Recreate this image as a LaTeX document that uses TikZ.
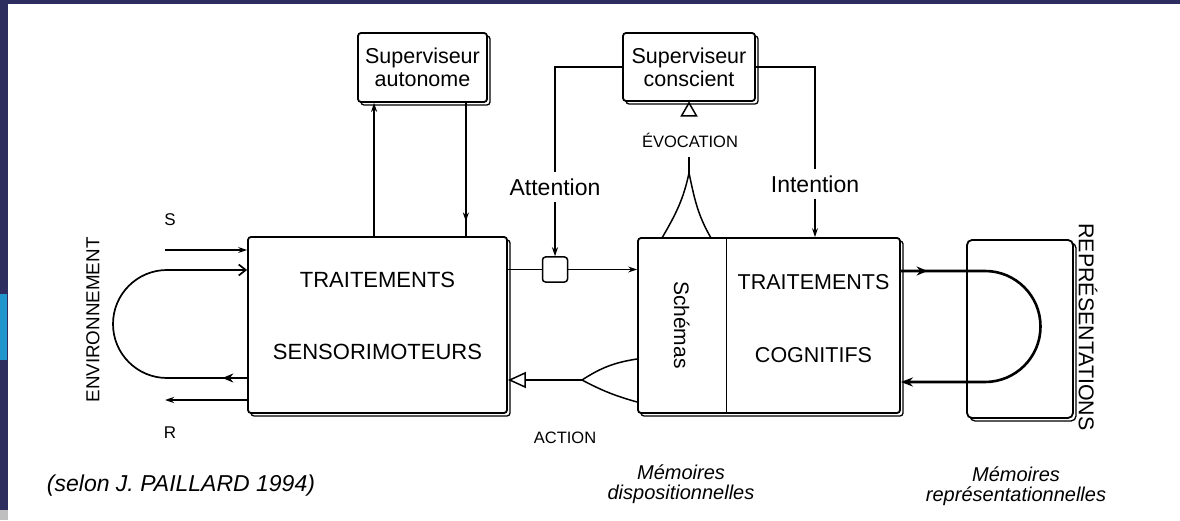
\documentclass[tikz,border=0pt]{standalone}
\usepackage{fontspec}
\setmainfont{Liberation Sans}
\usetikzlibrary{arrows.meta, positioning, shadows, decorations.markings}
\definecolor{slidenavy}{RGB}{45,45,95}
\definecolor{slidecyan}{RGB}{32,150,205}

\begin{document}
\begin{tikzpicture}[
    x=1pt, y=1pt,
    >={Stealth[length=9pt, width=6pt]},
    font=\fontsize{22}{25}\selectfont,
    box/.style     = {rectangle, draw, line width=1.8pt, rounded corners=3pt, fill=white,
                      general shadow={shadow xshift=3pt, shadow yshift=-3pt, draw, line width=1.3pt, fill=white}},
    sup/.style     = {box, align=center, font=\fontsize{21.5}{23}\selectfont},
    gatebox/.style = {rectangle, draw, line width=1.5pt, rounded corners=3pt, minimum size=25pt, inner sep=0pt},
    wire/.style    = {line width=1.5pt},
    arr/.style     = {wire, ->},
    lbl/.style     = {font=\fontsize{23}{26}\selectfont, inner sep=6pt},
    caps/.style    = {font=\fontsize{16.5}{19}\selectfont, inner sep=2pt},
    mem/.style     = {font=\fontsize{20}{20}\selectfont\itshape, align=center},
    envloop/.style = {line width=1.7pt, -{Straight Barb[length=7pt, width=11pt]}},
    reploop/.style = {line width=2.6pt, -{Stealth[length=12pt, width=9pt]}},
    midarrow/.style = {postaction={decorate, decoration={markings,
                       mark=at position #1 with {\arrow{Stealth[length=9pt, width=6pt]}}}}},
    loopmark/.style = {postaction={decorate, decoration={markings,
                       mark=at position #1 with {\arrow{Stealth[length=11pt, width=9pt]}}}}},
]

% ---------------- slide frame ----------------
\useasboundingbox (0,0) rectangle (1180,520);
\fill[white] (0,0) rectangle (1180,520);
\fill[slidenavy] (0,516) rectangle (1180,520);
\fill[slidenavy] (0,0) rectangle (8,520);
\fill[slidecyan] (0,160) rectangle (7,226);
\fill[black!25] (0,0) rectangle (8,10);

% ---------------- supervisors ----------------
\node[sup, minimum width=129pt, minimum height=69pt] (autonome) at (422.5,452.5) {Superviseur\\autonome};
\node[sup, minimum width=132pt, minimum height=68pt] (conscient) at (689,453) {Superviseur\\conscient};

% ---------------- processing boxes ----------------
\node[box, minimum width=259pt, minimum height=176pt] (sensori) at (377.5,195) {};
\node at ([yshift=45pt]sensori.center) {TRAITEMENTS};
\node at ([yshift=-27pt]sensori.center) {SENSORIMOTEURS};

\node[box, minimum width=262pt, minimum height=175pt] (disp) at (769,194.5) {};
\node[anchor=north west, minimum width=89pt, minimum height=175pt, inner sep=0pt] (schemas) at (disp.north west) {};
\draw[line width=1.6pt] (schemas.north east) -- (schemas.south east);
\node[rotate=-90, font=\fontsize{21}{24}\selectfont] at (schemas.center) {Schémas};
\node[font=\fontsize{21.5}{24}\selectfont] at ([xshift=44.5pt, yshift=43.5pt]disp.center) {TRAITEMENTS};
\node[font=\fontsize{21.5}{24}\selectfont] at ([xshift=44.5pt, yshift=-29.5pt]disp.center) {COGNITIFS};

\node[box, rounded corners=5pt, minimum width=106pt, minimum height=178pt] (rep) at (1020,191) {};
\node[rotate=-90, font=\fontsize{21.4}{24}\selectfont] at (1088,193) {REPRÉSENTATIONS};

\node[gatebox] (gate) at (555,250.5) {};

% ---------------- labels ----------------
\node[lbl] (attn) at (555,333) {Attention};
\node[lbl] (intn) at (815,336) {Intention};
\node[caps] (evo) at (690,380) {ÉVOCATION};
\node[caps] (act) at (565,82) {ACTION};
\node[font=\fontsize{17}{20}\selectfont] (slbl) at (170,300) {S};
\node[font=\fontsize{17}{20}\selectfont] (rlbl) at (170,87) {R};
\node[rotate=90, font=\fontsize{18.8}{21}\selectfont] (env) at (93,200) {ENVIRONNEMENT};
\node[mem] (memdisp) at (681,36) {Mémoires\\dispositionnelles};
\node[mem] (memrep) at (1016,34) {Mémoires\\représentationnelles};
\node[font=\fontsize{23}{26}\selectfont\itshape] (src) at (181,34) {(selon J. PAILLARD 1994)};

% ---------------- autonomous loop ----------------
\coordinate (autoL) at ([xshift=17pt]autonome.south west);
\coordinate (autoR) at ([xshift=-22pt]autonome.south east);
\draw[arr] (sensori.north -| autoL) -- (autoL);
\draw[wire, midarrow=0.89] (autoR) -- (sensori.north -| autoR);

% ---------------- attention / intention ----------------
\draw[wire] (conscient.west) -| (attn.north);
\draw[arr] (attn.south) -- (gate.north);
\draw[wire] (conscient.east) -| (intn.north);
\draw[arr] (intn.south) -- (intn.south |- disp.north);
\draw[wire] (sensori.east |- gate.west) -- (gate.west);
\draw[arr] (gate.east) -- (disp.west |- gate.east);

% ---------------- evocation fork ----------------
\coordinate (evoTop) at (689,363);
\coordinate (evoFork) at (689,347);
\coordinate (evoL) at (662,282);
\coordinate (evoR) at (711,282);
% open triangle under the conscious supervisor
\draw[wire, line join=miter] ([yshift=-1pt]conscient.south) -- ++(-7.5,-13) -- ++(15,0) -- cycle;
\draw[wire] (evoTop) -- (evoFork);
\draw[wire] (evoL) to[out=60, in=-102] (evoFork) to[out=-78, in=120] (evoR);

% ---------------- action fork ----------------
\coordinate (actFork) at (582,140);
\coordinate (actUp) at (637,161);
\coordinate (actDn) at (637,118);
\draw[wire, -{Triangle[open, length=18pt, width=16pt]}] (actFork) -- (sensori.east |- actFork);
\draw[wire] (actUp) to[bend right=12] (actFork) to[bend right=6] (actDn);

% ---------------- environment ----------------
\coordinate (sIn) at (165,270);
\coordinate (rOut) at (165,120);
\coordinate (envTop) at (167,250);
\coordinate (envBot) at (167,142);
\draw[arr] (sIn) -- (sensori.west |- sIn);
\draw[arr] (sensori.west |- rOut) -- (rOut);
\draw[envloop, loopmark=0.075] (sensori.west |- envBot) -- (envBot)
    arc[start angle=270, end angle=90, radius=54] -- (sensori.west |- envTop);

% ---------------- representations ----------------
\coordinate (repTop) at (985,249);
\coordinate (repBot) at (985,138);
\draw[reploop, loopmark=0.078] (disp.east |- repTop) -- (repTop)
    arc[start angle=90, end angle=-90, radius=55.5] -- (disp.east |- repBot);

\end{tikzpicture}
\end{document}
